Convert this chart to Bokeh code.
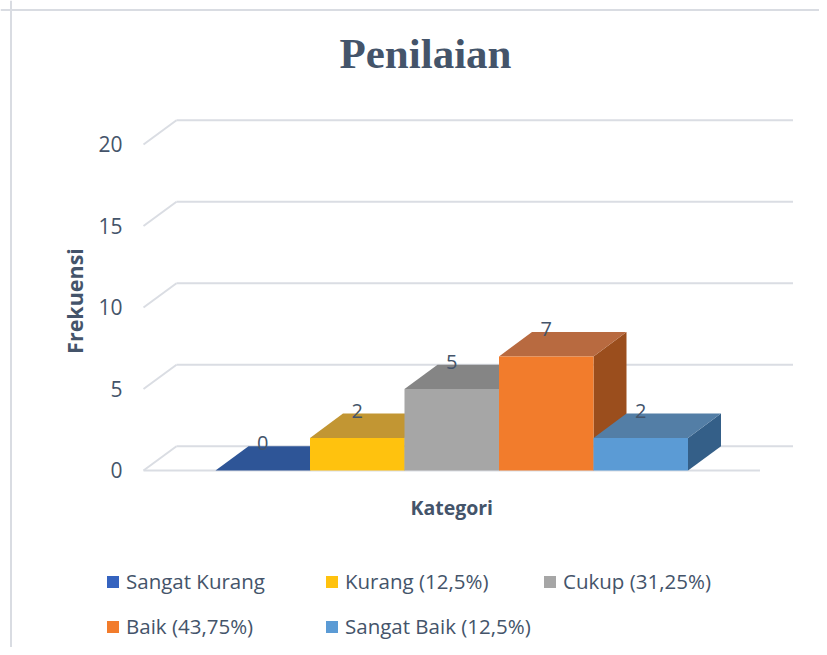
import math
from bokeh.plotting import figure
from bokeh.models import Range1d, ColumnDataSource, Legend, LegendItem, Span
from bokeh.core.properties import value
from bokeh.embed import file_html
from bokeh.resources import INLINE

# ---------------- data ----------------
TITLE = "Penilaian"
X_TITLE = "Kategori"
Y_TITLE = "Frekuensi"
SERIES = ["Sangat Kurang", "Kurang (12,5%)", "Cukup (31,25%)", "Baik (43,75%)", "Sangat Baik (12,5%)"]
VALUES = [0, 2, 5, 7, 2]
Y_TICKS = [0, 5, 10, 15, 20]
Y_TICK_LABELS = ["0", "5", "10", "15", "20"]

# ---------------- styles ----------------
FRONT = ["#3563bf", "#ffc20e", "#a6a6a6", "#f27c2c", "#5b9bd5"]
TOP = ["#2e5597", "#c29633", "#858585", "#b86a40", "#537ea6"]
SIDE = ["#1f3f76", "#9c7616", "#6e6e6e", "#9b4e1d", "#345f88"]
TEXT_COLOR = "#44546a"
GRID_COLOR = "#dadde3"
FONT = "Open Sans"

# ---------------- layout (pixels) ----------------
W, H = 819, 647
PXX = 94.5      # pixels per bar width
PXY = 16.3      # pixels per value unit
ORIGIN_X = 215  # canvas x of first bar's left edge
ORIGIN_Y = 470  # canvas y of value 0 on the front plane
BASE_FIX = 0.4  # svg text baseline correction (em)


def dx(px):
    return px / PXX


def dy(px):
    return px / PXY


GAP = dx(72)
DEPTH_X = dx(33)
DEPTH_Y = dy(24.3)
n = len(VALUES)
FLOOR_L = -GAP
FLOOR_R = n + GAP

p = figure(width=W, height=H,
           x_range=Range1d(-ORIGIN_X / PXX, (W - ORIGIN_X) / PXX),
           y_range=Range1d((ORIGIN_Y - H) / PXY, ORIGIN_Y / PXY),
           x_axis_location=None, y_axis_location=None,
           output_backend="svg", toolbar_location=None, min_border=0)
p.grid.visible = False
p.outline_line_color = None
p.background_fill_color = "white"
p.border_fill_color = "white"

# chart border (left and top edges visible in the crop)
p.add_layout(Span(location=p.x_range.start + dx(10.5), dimension="height",
                  line_color="#d9dce2", line_width=2))
p.add_layout(Span(location=p.y_range.end - dy(9.5), dimension="width",
                  line_color="#d9dce2", line_width=2))

# back gridlines + left wall diagonals + front floor edge
gx0 = [FLOOR_L + DEPTH_X for t in Y_TICKS]
gx1 = [FLOOR_R + DEPTH_X for t in Y_TICKS]
gy = [t + DEPTH_Y for t in Y_TICKS]
p.segment(x0=gx0, y0=gy, x1=gx1, y1=gy, line_color=GRID_COLOR, line_width=2)
p.segment(x0=[FLOOR_L] * len(Y_TICKS), y0=Y_TICKS, x1=gx0, y1=gy,
          line_color=GRID_COLOR, line_width=2)
p.segment(x0=[FLOOR_L], y0=[0], x1=[FLOOR_R], y1=[0], line_color=GRID_COLOR, line_width=2)

# 3D bars: sides, tops, fronts
side_xs, side_ys, top_xs, top_ys = [], [], [], []
for i, v in enumerate(VALUES):
    side_xs.append([i + 1, i + 1 + DEPTH_X, i + 1 + DEPTH_X, i + 1])
    side_ys.append([0, DEPTH_Y, v + DEPTH_Y, v])
    top_xs.append([i, i + 1, i + 1 + DEPTH_X, i + DEPTH_X])
    top_ys.append([v, v, v + DEPTH_Y, v + DEPTH_Y])

p.patches(xs=side_xs, ys=side_ys, fill_color=SIDE, line_color=None)
p.patches(xs=top_xs, ys=top_ys, fill_color=TOP, line_color=None)
front_src = ColumnDataSource(dict(left=list(range(n)), right=[i + 1 for i in range(n)],
                                  bottom=[0] * n, top=VALUES, color=FRONT, name=SERIES))
front_r = p.quad(left="left", right="right", bottom="bottom", top="top",
                 fill_color="color", line_color=None, source=front_src)

# data labels (baseline ~5px below the back top edge)
p.text(x=[i + 0.5 for i in range(n)], y=[v + DEPTH_Y - dy(5 - BASE_FIX * 20) for v in VALUES],
       text=[str(v) for v in VALUES], text_align="center", text_baseline="alphabetic",
       text_font=value(FONT), text_font_size="20px", text_color=TEXT_COLOR)

# y tick labels (baseline 8px below the front tick position)
p.text(x=[FLOOR_L - dx(21)] * len(Y_TICKS), y=[t - dy(8 - BASE_FIX * 21) for t in Y_TICKS],
       text=Y_TICK_LABELS, text_align="right", text_baseline="alphabetic",
       text_font=value(FONT), text_font_size="21px", text_color=TEXT_COLOR)

# axis titles
p.text(x=[FLOOR_L - dx(68.6)], y=[(Y_TICKS[0] + Y_TICKS[-1]) / 2 + dy(6.5)], text=[Y_TITLE],
       angle=math.pi / 2, text_align="center", text_baseline="alphabetic",
       text_font=value(FONT), text_font_style="bold", text_font_size="21.5px",
       text_color=TEXT_COLOR)
p.text(x=[(FLOOR_L + FLOOR_R) / 2], y=[-dy(44.3 - BASE_FIX * 19.5)], text=[X_TITLE],
       text_align="center", text_baseline="alphabetic",
       text_font=value(FONT), text_font_style="bold", text_font_size="19.5px",
       text_color=TEXT_COLOR)

# chart title
p.text(x=[dx(425 - ORIGIN_X)], y=[dy(ORIGIN_Y - 70 + BASE_FIX * 43)], text=[TITLE],
       text_align="center", text_baseline="alphabetic",
       text_font=value("Liberation Serif"), text_font_style="bold", text_font_size="43px",
       text_color=TEXT_COLOR)


# legends (three columns)
def make_legend(idxs, loc, spacing):
    items = [LegendItem(label=SERIES[i], renderers=[front_r], index=i) for i in idxs]
    leg = Legend(items=items, location=loc, orientation="vertical", spacing=spacing,
                 padding=0, margin=0, border_line_alpha=0, background_fill_alpha=0,
                 glyph_width=15, glyph_height=15, label_standoff=6, label_height=20,
                 label_text_font=FONT, label_text_font_size="20.5px",
                 label_text_color=TEXT_COLOR)
    p.add_layout(leg)


make_legend([0, 3], (105, 7), 17)
make_legend([1, 4], (324, 7), 17)
make_legend([2], (542, 52), 17)

open("out.html", "w").write(file_html(p, INLINE))
